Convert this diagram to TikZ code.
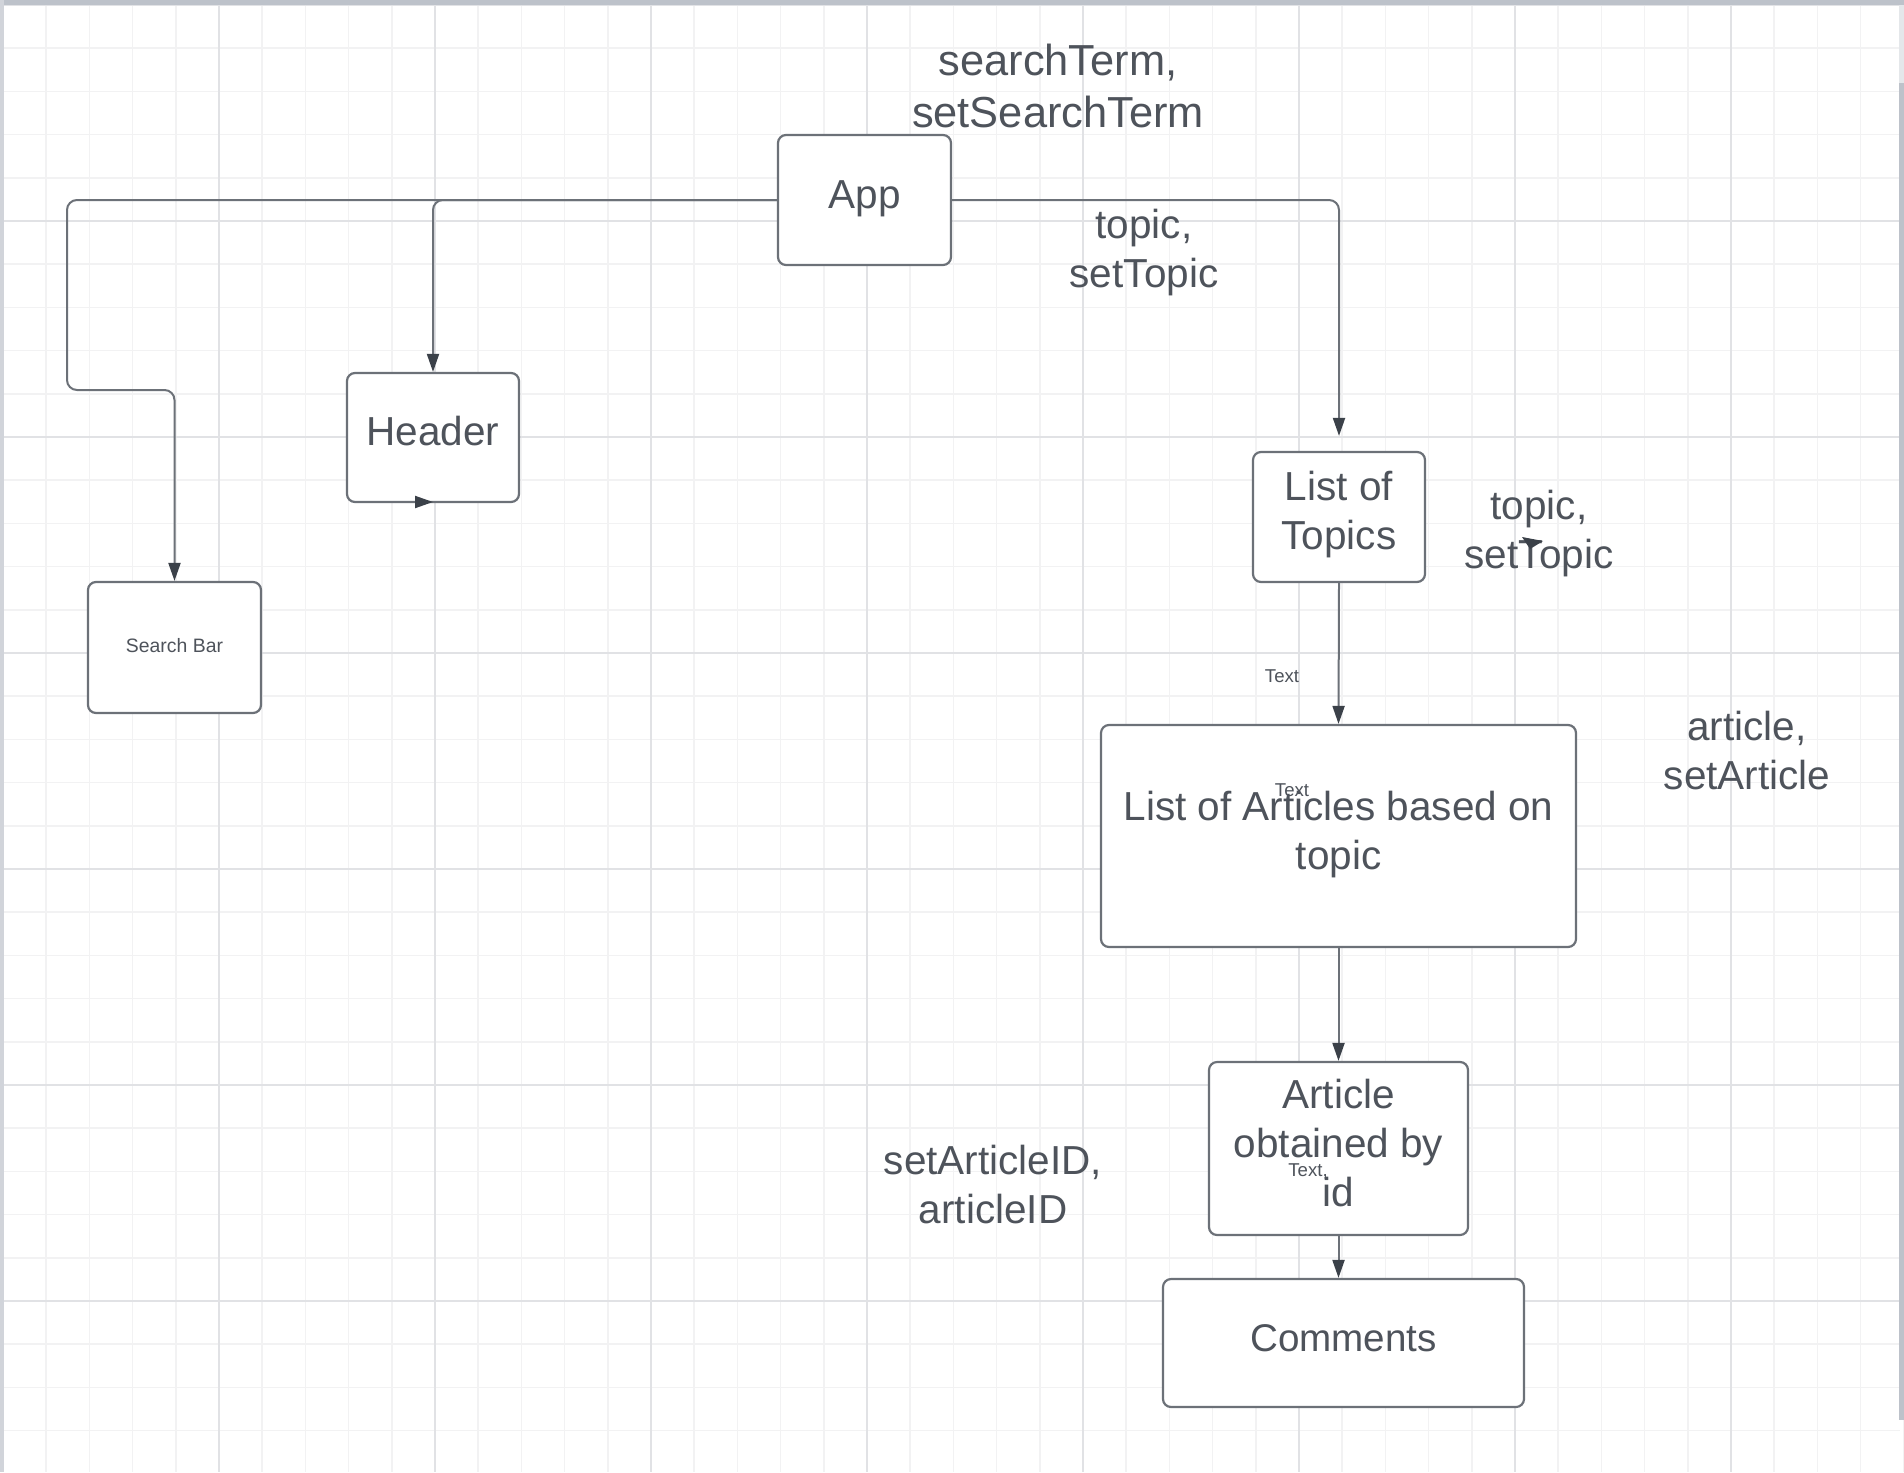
\documentclass[tikz,border=0pt]{standalone}
\usepackage{fontspec}
\setmainfont{Liberation Sans}
\usetikzlibrary{arrows.meta}
\definecolor{txt}{HTML}{4E535B}
\definecolor{ln}{HTML}{6C7178}
\definecolor{tip}{HTML}{3B4149}
\definecolor{gminor}{HTML}{F2F2F3}
\definecolor{gmajor}{HTML}{E1E2E5}
\definecolor{frame}{HTML}{BDC2CA}
\tikzset{
  x=0.5pt, y=-0.5pt,
  box/.style={draw=ln, line width=1.1pt, rounded corners=4pt, fill=white, inner sep=0pt},
  lbl/.style={text=txt, align=center, inner sep=0pt,
    font=\fontsize{20.25pt}{24.5pt}\selectfont},
  small/.style={text=txt, inner sep=0pt, font=\fontsize{9.3pt}{11pt}\selectfont},
  conn/.style={draw=ln, line width=1pt, rounded corners=5pt,
    -{Triangle[length=9pt,width=6pt,fill=tip,color=tip]}},
}
\begin{document}
\begin{tikzpicture}
\useasboundingbox (0,0) rectangle (1904,1472);
\fill[white] (0,0) rectangle (1904,1472);
% grid
\foreach \i in {0,...,44} {
  \draw[gminor, line width=0.8pt] ({3+43.2*\i},5) -- ({3+43.2*\i},1472);
}
\foreach \j in {0,...,34} {
  \draw[gminor, line width=0.8pt] (0,{5+43.2*\j}) -- (1900,{5+43.2*\j});
}
\foreach \i in {0,...,8} {
  \draw[gmajor, line width=0.9pt] ({3+216*\i},5) -- ({3+216*\i},1472);
}
\foreach \j in {0,...,6} {
  \draw[gmajor, line width=0.9pt] (0,{5+216*\j}) -- (1900,{5+216*\j});
}
% frame
\fill[frame] (0,0) rectangle (1904,5);
\fill[frame!70] (0,0) rectangle (3.5,1472);
\fill[frame!40] (1899,5) rectangle (1904,83);
\fill[frame] (1899,83) rectangle (1904,1420);

% boxes
\node[box, minimum width=86.5pt, minimum height=65pt] (app) at (864.5,200) {};
\node[box, minimum width=86pt, minimum height=64.5pt] (header) at (433,437.5) {};
\node[box, minimum width=86.5pt, minimum height=65.5pt] (search) at (174.5,647.5) {};
\node[box, minimum width=86pt, minimum height=65pt] (topics) at (1339,517) {};
\node[box, minimum width=237.5pt, minimum height=111pt] (articles) at (1338.5,836) {};
\node[box, minimum width=129.5pt, minimum height=86.5pt] (article) at (1338.5,1148.5) {};
\node[box, minimum width=180.5pt, minimum height=64pt] (comments) at (1343.5,1343) {};

% box texts
\node[lbl] (appT) at ([yshift=0.6pt]app.center) {App};
\node[lbl] (headerT) at ([yshift=3pt]header.center) {Header};
\node[lbl, font=\fontsize{9.7pt}{11pt}\selectfont] (searchT) at ([yshift=1.2pt]search.center) {Search Bar};
\node[lbl] (topicsT) at ([yshift=1pt]topics.center) {List of\\Topics};
\node[lbl] (articlesT) at ([yshift=0.6pt]articles.center) {List of Articles based on\\topic};
\node[lbl] (articleT) at ([yshift=2.5pt]article.center) {Article\\obtained by\\id};
\node[lbl, font=\fontsize{19.3pt}{24pt}\selectfont] (commentsT) at ([yshift=2.5pt]comments.center) {Comments};

% connectors
\coordinate (topIn) at ([yshift=7.5pt]topics.north);
\draw[conn] (app.west) -| (header.north);
\draw[conn] (app.west) -- (67,200) -- (67,390) -- (174.5,390) -- (search.north);
\draw[conn] (app.east) -| (topIn);
\draw[conn, rounded corners=0pt] (topics.south) -- (articles.north);
\draw[conn, rounded corners=0pt] (articles.south) -- (article.north);
\draw[conn, rounded corners=0pt] (article.south) -- (article.south |- comments.north);

% stray arrowhead on Header
\coordinate (hA) at (414,502);
\coordinate (hB) at (433,502);
\draw[conn, rounded corners=0pt] (hA) -- (hB);

% labels
\node[lbl, font=\fontsize{21.7pt}{26pt}\selectfont] (l1) at (1058,86) {searchTerm,\\setSearchTerm};
\node[lbl] (l2) at (1144,253) {topic,\\setTopic};
\node[lbl] (l3) at (1539,534) {topic,\\setTopic};
\node[lbl] (l4) at (1747,751) {article,\\setArticle};
\node[lbl] (l5) at (993,1185) {setArticleID,\\articleID};

% stray arrowhead near setTopic
\coordinate (tA) at (1522,537);
\coordinate (tB) at (1543,541);
\coordinate (tC) at (1530,549);
\fill[tip] (tA) -- (tB) -- (tC) -- cycle;

\node[small] (s1) at (1282,676) {Text};
\node[small] (s2) at (1292,790) {Text};
\node[small] (s3) at (1308,1171) {Text,};
\end{tikzpicture}
\end{document}
